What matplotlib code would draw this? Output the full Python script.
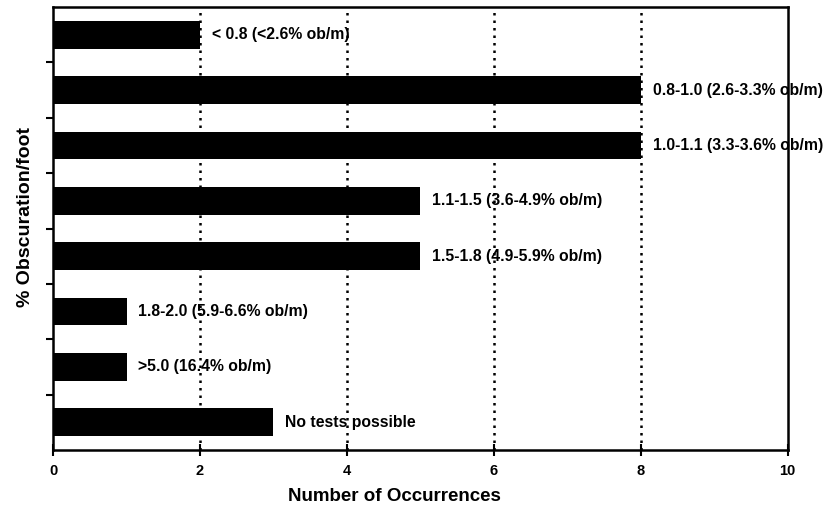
import matplotlib.pyplot as plt
import numpy as np

plt.rcParams['font.family'] = ['Liberation Sans', 'DejaVu Sans']
plt.rcParams['font.weight'] = 'bold'

# categories from top to bottom
labels = ["< 0.8 (<2.6% ob/m)",
          "0.8-1.0 (2.6-3.3% ob/m)",
          "1.0-1.1 (3.3-3.6% ob/m)",
          "1.1-1.5 (3.6-4.9% ob/m)",
          "1.5-1.8 (4.9-5.9% ob/m)",
          "1.8-2.0 (5.9-6.6% ob/m)",
          ">5.0 (16.4% ob/m)",
          "No tests possible"]
counts = [2, 8, 8, 5, 5, 1, 1, 3]
xticks = [0, 2, 4, 6, 8, 10]

fig = plt.figure(figsize=(8.3, 5.09), dpi=100)
ax = fig.add_axes([0.064, 0.116, 0.885, 0.870])

n = len(counts)
ypos = np.arange(n)[::-1] + 0.5

ax.barh(ypos, counts, height=0.5, color="black", zorder=3)
for y, c, lab in zip(ypos, counts, labels):
    ax.text(c + 0.16, y, lab, va="center", ha="left", fontsize=11.3,
            fontweight="bold", clip_on=False, zorder=4)

for g in [2, 4, 6, 8]:
    ax.axvline(g, color="black", linestyle=(0, (1, 2)), linewidth=1.8, zorder=1)

ax.set_xlim(0, 10)
ax.set_ylim(0, n)
ax.set_xticks(xticks)
ax.set_xticklabels([str(t) for t in xticks], fontsize=10.5, fontweight="bold")
ax.set_yticks(np.arange(1, n))
ax.set_yticklabels([])
ax.tick_params(axis="x", direction="inout", length=8, width=1.5, pad=6)
ax.tick_params(axis="y", direction="out", length=5, width=1.5)
for s in ax.spines.values():
    s.set_linewidth(1.8)

ax.set_xlabel("Number of Occurrences", fontsize=13.5, fontweight="bold")
ax.xaxis.set_label_coords(0.464, -0.085)
ax.set_ylabel("% Obscuration/foot", fontsize=14, fontweight="bold")
ax.yaxis.set_label_coords(-0.026, 0.526)

fig.savefig("out.png", dpi=100)
